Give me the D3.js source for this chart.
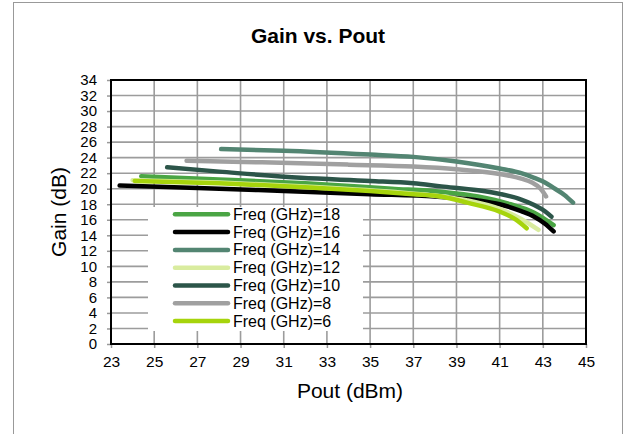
<!DOCTYPE html>
<html>
<head>
<meta charset="utf-8">
<script src="https://cdn.jsdelivr.net/npm/d3@7"></script>
<style>
  body { margin: 0; background: #fff; }
  text { font-family: "Liberation Sans", Arial, sans-serif; fill: #000; }
</style>
</head>
<body>
<script>
// Gain (dB) vs Pout (dBm), one array of [pout, gain] per frequency
const freq18 = [[24.4, 21.6], [28, 21.2], [32, 20.7], [36, 20.0], [38.3, 19.6], [40, 19.0], [41.5, 18.0], [42.6, 16.9], [43.5, 15.3]];
const freq16 = [[23.4, 20.4], [27, 20.1], [31, 19.7], [35, 19.3], [38, 19.0], [40, 18.5], [41, 18.0], [42, 17.1], [42.6, 16.4], [43.1, 15.5], [43.5, 14.5]];
const freq14 = [[28.1, 25.1], [31, 24.9], [35, 24.4], [37, 24.1], [39, 23.5], [41, 22.6], [42, 22.0], [42.6, 21.4], [43.1, 20.8], [43.5, 20.1], [44, 19.2], [44.4, 18.2]];
const freq12 = [[24.0, 21.1], [28, 20.8], [32, 20.3], [36, 19.6], [38, 19.1], [39.5, 18.5], [41, 17.4], [42, 16.1], [42.8, 14.7]];
const freq10 = [[25.6, 22.75], [28, 22.2], [31.8, 21.4], [35, 21.0], [37, 20.7], [38.3, 20.3], [40, 19.8], [41.05, 19.3], [42, 18.6], [42.6, 17.9], [43.1, 17.1], [43.4, 16.4]];
const freq8 = [[26.5, 23.6], [30, 23.4], [34, 23.1], [37, 22.85], [39, 22.5], [41, 21.9], [42, 21.3], [42.5, 20.8], [42.9, 20.0], [43.15, 19.0]];
const freq6 = [[24.1, 21.0], [28, 20.7], [32, 20.2], [35, 19.7], [37, 19.3], [38.3, 19.0], [39.5, 18.2], [41, 17.05], [41.7, 16.1], [42.25, 14.9]];

const seriesNames = ["Freq (GHz)=18", "Freq (GHz)=16", "Freq (GHz)=14", "Freq (GHz)=12", "Freq (GHz)=10", "Freq (GHz)=8", "Freq (GHz)=6"];
const seriesData = [freq18, freq16, freq14, freq12, freq10, freq8, freq6];
const seriesColors = ["#4aa544", "#000000", "#538572", "#d9ec9f", "#2c5549", "#a0a0a0", "#a6d40c"];

const xTicks = d3.range(23, 46, 2);
const yTicks = d3.range(0, 35, 2);

const W = 626, H = 434;
const plot = { left: 111, right: 586, top: 80, bottom: 344 };

const svg = d3.select("body").append("svg")
  .attr("width", W)
  .attr("height", H);

// chart area border (runs off the bottom)
svg.append("rect")
  .attr("x", 13.5).attr("y", 2.5)
  .attr("width", 609).attr("height", 460)
  .attr("fill", "#fff")
  .attr("stroke", "#999");

const x = d3.scaleLinear().domain([23, 45]).range([plot.left, plot.right]);
const y = d3.scaleLinear().domain([0, 34]).range([plot.bottom, plot.top]);

// gridlines
svg.append("g")
  .attr("stroke", "#9c9c9c")
  .attr("stroke-width", 1.6)
  .call(g => g.selectAll(".v")
    .data(xTicks.slice(1, -1))
    .join("line")
    .attr("x1", d => x(d)).attr("x2", d => x(d))
    .attr("y1", plot.top).attr("y2", plot.bottom))
  .call(g => g.selectAll(".h")
    .data(yTicks.slice(1, -1))
    .join("line")
    .attr("x1", plot.left).attr("x2", plot.right)
    .attr("y1", d => y(d)).attr("y2", d => y(d)));

// axes
const xAxis = svg.append("g")
  .attr("transform", `translate(0,${plot.bottom})`)
  .call(d3.axisBottom(x).tickValues(xTicks).tickSize(4).tickPadding(8))
  .call(g => g.select(".domain").remove());
xAxis.selectAll("line").attr("stroke", "#999").attr("stroke-width", 1.5);
xAxis.selectAll("text").attr("font-size", 15.5).attr("font-family", "Liberation Sans, Arial, sans-serif");

const yAxis = svg.append("g")
  .attr("transform", `translate(${plot.left},0)`)
  .call(d3.axisLeft(y).tickValues(yTicks).tickSize(4).tickPadding(10))
  .call(g => g.select(".domain").remove());
yAxis.selectAll("line").attr("stroke", "#999").attr("stroke-width", 1.5);
yAxis.selectAll("text").attr("font-size", 15).attr("font-family", "Liberation Sans, Arial, sans-serif");

// plot area frame
svg.append("rect")
  .attr("x", plot.left).attr("y", plot.top)
  .attr("width", plot.right - plot.left)
  .attr("height", plot.bottom - plot.top)
  .attr("fill", "none")
  .attr("stroke", "#000")
  .attr("stroke-width", 2);

// series
const line = d3.line()
  .x(d => x(d[0]))
  .y(d => y(d[1]))
  .curve(d3.curveMonotoneX);

svg.append("g")
  .attr("fill", "none")
  .attr("stroke-width", 4.5)
  .attr("stroke-linecap", "round")
  .selectAll("path")
  .data(seriesData)
  .join("path")
  .attr("stroke", (d, i) => seriesColors[i])
  .attr("d", line);

// legend
const legend = svg.append("g");
legend.append("rect")
  .attr("x", 148).attr("y", 207)
  .attr("width", 215).attr("height", 124)
  .attr("fill", "#fff");

const item = legend.selectAll("g.item")
  .data(seriesNames)
  .join("g")
  .attr("transform", (d, i) => `translate(0,${214.3 + i * 17.8})`);

item.append("line")
  .attr("x1", 175).attr("x2", 228)
  .attr("stroke", (d, i) => seriesColors[i])
  .attr("stroke-width", 4.5)
  .attr("stroke-linecap", "round");

item.append("text")
  .attr("x", 233)
  .attr("y", 5.5)
  .attr("font-size", 16)
  .text(d => d);

// titles
svg.append("text")
  .attr("x", 318).attr("y", 42.5)
  .attr("text-anchor", "middle")
  .attr("font-size", 21)
  .attr("font-weight", "bold")
  .text("Gain vs. Pout");

svg.append("text")
  .attr("x", 350).attr("y", 398)
  .attr("text-anchor", "middle")
  .attr("font-size", 21)
  .text("Pout (dBm)");

svg.append("text")
  .attr("transform", `translate(66,${(plot.top + plot.bottom) / 2}) rotate(-90)`)
  .attr("text-anchor", "middle")
  .attr("font-size", 21)
  .text("Gain (dB)");
</script>
</body>
</html>
